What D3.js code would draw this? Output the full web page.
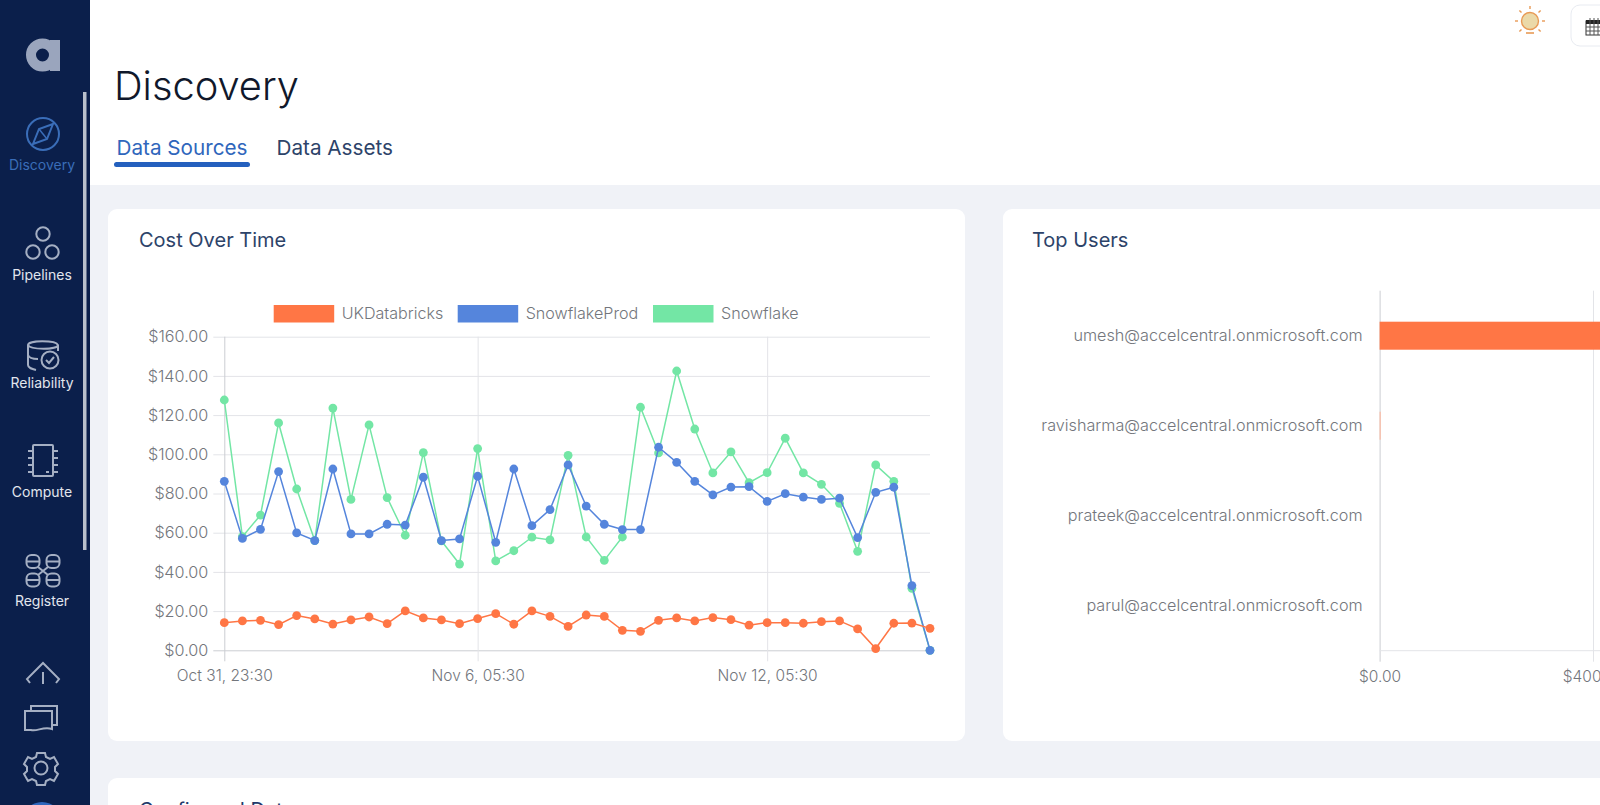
<!DOCTYPE html>
<html><head><meta charset="utf-8">
<script src="https://cdn.jsdelivr.net/npm/d3@7"></script>
<style>
html,body{margin:0;padding:0;width:1600px;height:805px;overflow:hidden;background:#fff}
svg{display:block}
text{font-family:Inter,"Noto Sans",sans-serif}
</style></head><body><svg id="c" width="1600" height="805"></svg>
<script>
const timeLabels=["Oct 31, 23:30","Nov 6, 05:30","Nov 12, 05:30"];
const timeTickIndex=[0,14,30];
const pointIndex=d3.range(40);
const seriesNames=["UKDatabricks","SnowflakeProd","Snowflake"];
const seriesColors=["#FF7645","#5585DC","#73E6A5"];
const ukDatabricks=[14.1,15,15.3,13.1,17.7,16,13.4,15.5,17,13.6,20.1,16.5,15.5,13.6,16.2,18.7,13.3,20.1,17.3,12.2,18,17.3,10.2,9.7,15.3,16.5,15,16.7,15.6,12.8,14.1,14.1,13.8,14.6,15,10.9,0.9,13.8,13.9,11.2];
const snowflakeProd=[86.2,57.1,61.7,91.2,59.9,56,92.5,59.4,59.4,64.3,63.9,88.3,56,56.8,88.8,55.1,92.5,63.6,71.8,94.6,73.6,64.3,61.6,61.6,103.6,95.9,86.2,79.3,83.3,83.5,76,79.9,78.2,77,77.6,57.5,80.6,83.2,33,0];
const snowflake=[127.7,58,69,116,82.3,56,123.6,77,115,77.9,58.7,100.9,55.8,44,102.9,45.6,50.8,57.7,56.3,99.5,57.8,45.9,57.8,124,100.7,142.5,112.9,90.5,101.2,85.5,90.6,108.2,90.5,84.7,75,50.5,94.6,86.2,31.6,0];
const costTicks=[0,20,40,60,80,100,120,140,160];
const users=["umesh@accelcentral.onmicrosoft.com","ravisharma@accelcentral.onmicrosoft.com","prateek@accelcentral.onmicrosoft.com","parul@accelcentral.onmicrosoft.com"];
const userCost=[1200,2,0,0];
const userTicks=[0,400];

const svg=d3.select("#c");
const bg=svg.append("g");
bg.append("rect").attr("x",90).attr("y",185).attr("width",1510).attr("height",620).attr("fill","#F0F2F7");
[[108,209,857,532],[1003,209,700,532],[108,778,1600,80]].forEach(r=>bg.append("rect").attr("x",r[0]).attr("y",r[1]).attr("width",r[2]).attr("height",r[3]).attr("rx",9).attr("fill","#fff"));
const t=(x,y,s,size,fill,w,a)=>svg.append("text").attr("x",x).attr("y",y).text(s).attr("font-size",size).attr("fill",fill).attr("font-weight",w||400).attr("text-anchor",a||"start");
t(114,100,"Discovery",39.8,"#10182b",300);
t(116.5,155,"Data Sources",20.7,"#2F66BC",400);
t(276.5,155,"Data Assets",20.7,"#2D4369",400);
svg.append("rect").attr("x",114).attr("y",162).attr("width",136).attr("height",5).attr("rx",2.5).attr("fill","#2460BE");
t(139,247,"Cost Over Time",20,"#2D4369",400);
t(1032,247,"Top Users",20,"#2D4369",400);
t(139,817,"Configured Data",20,"#22396a",400);

// sidebar
const side=svg.append("g");
side.append("rect").attr("width",90).attr("height",805).attr("fill","#0B1F4B");
side.append("rect").attr("x",83).attr("y",92).attr("width",3.5).attr("height",458).attr("fill","#B9C0CC");
const ic="#A5AFC3",blue="#3A6DB8";
const labels=[["Discovery",170,blue],["Pipelines",280,"#E2E6EE"],["Reliability",388,"#E2E6EE"],["Compute",497,"#E2E6EE"],["Register",606,"#E2E6EE"]];
labels.forEach(l=>t(42,l[1],l[0],14,l[2],400,"middle"));
const g=(sel,attrs)=>{const e=side.append(sel);Object.entries(attrs).forEach(([k,v])=>e.attr(k,v));return e;};
const S={fill:"none",stroke:ic,"stroke-width":2};
// logo
g("circle",{cx:42.5,cy:55,r:11.5,fill:"none",stroke:"#9AA5BD","stroke-width":10});
g("rect",{x:50,y:40,width:10,height:31,fill:"#9AA5BD"});
// discovery
g("circle",{cx:43,cy:134,r:16,fill:"none",stroke:blue,"stroke-width":2});
g("path",{d:"M53 124L47 139L33 144L39 129Z",fill:"none",stroke:blue,"stroke-width":2});
g("path",{d:"M39 129L47 139",stroke:blue,"stroke-width":1.5});
// pipelines
[[43,234],[33,252],[52,252]].forEach(c=>g("circle",{cx:c[0],cy:c[1],r:6.7,...S}));
// reliability
g("path",{d:"M28 345c0-5 28-5 30 0c0 5-28 5-30 0v20c0 3 4 4 8 5M28 355c1 3 6 4 10 4M58 345v6",...S});
g("circle",{cx:50,cy:360,r:8.5,...S});
g("path",{d:"M46 360l3 3l5-6",...S});
// compute
g("rect",{x:33,y:445,width:20,height:31,rx:1,...S});
[451,458,465,472].forEach(y=>g("path",{d:`M28 ${y}h5M53 ${y}h5`,...S}));
g("path",{d:"M46 472h3",...S});
// register
[[33,561.5],[53,561.5],[33,580],[53,580]].forEach(c=>{g("rect",{x:c[0]-6.5,y:c[1]-6.5,width:13,height:13,rx:5,...S});g("path",{d:`M${c[0]-6} ${c[1]}h12`,...S});});
g("path",{d:"M38 567l10 8M48 567l-10 8",...S});
// upload
g("path",{d:"M30 683l-3-4l16-16l16 16l-3 4M43 672v12",...S});
// cards
g("path",{d:"M25 711h27v18c-9 -3-15 3-21 1h-6zM31 711v-5h26v19h-5",...S});
// gear
g("circle",{cx:41,cy:768,r:6.5,...S});
g("path",{d:"M37 753h8l1 4l4 2l4-2l4 7l-3 3v4l3 3l-4 7l-4-2l-4 2l-1 4h-8l-1-4l-4-2l-4 2l-4-7l3-3v-4l-3-3l4-7l4 2l4-2z",...S});
g("circle",{cx:42,cy:822,r:20,fill:"#2F66BC"});

// bulb + calendar
g("circle",{cx:1530,cy:21,r:8.5,fill:"#EBD9A8",stroke:"#E89A55","stroke-width":1.4});
g("path",{d:"M1526 33h8",stroke:"#E89A55","stroke-width":1.6});
svg.selectAll(".ray").data([0,45,90,135,225,270,315]).join("line").attr("x1",1530).attr("x2",1530).attr("y1",21-12).attr("y2",21-15).attr("stroke","#E89A55").attr("stroke-width",1.4).attr("transform",d=>`rotate(${d} 1530 21)`);
svg.append("rect").attr("x",1571).attr("y",5).attr("width",50).attr("height",41).attr("rx",9).attr("fill","#fff").attr("stroke","#E8EBF1");
svg.append("rect").attr("x",1586).attr("y",21).attr("width",16).attr("height",14).attr("fill","#fff").attr("stroke","#333");
svg.append("rect").attr("x",1586).attr("y",20).attr("width",16).attr("height",4).attr("fill","#222");
[1590,1594,1598].forEach(v=>svg.append("line").attr("x1",v).attr("x2",v).attr("y1",18).attr("y2",35).attr("stroke","#555"));
[27,31].forEach(v=>svg.append("line").attr("x1",1586).attr("x2",1600).attr("y1",v).attr("y2",v).attr("stroke","#555"));

// cost chart
const x=d3.scalePoint().domain(pointIndex).range([224.3,930]);
const y=d3.scaleLinear().domain([0,160]).range([650.3,336.7]);
const cg=svg.append("g");
const grid="#E3E4E8",tickColor="#73767C",axisC="#CBCDD2";
const yA=d3.axisLeft(y).tickValues(costTicks).tickFormat(d=>"$"+d.toFixed(2)).tickSize(11).tickPadding(5);
const ya=cg.append("g").attr("transform","translate(224.3,0)").call(yA);
ya.select(".domain").remove();
ya.selectAll("line").attr("x2",930-224.3).attr("x1",-11).attr("stroke",d=>d===0?axisC:grid);
ya.selectAll("text").attr("fill",tickColor).attr("font-size",16.2).attr("font-weight",300);
const xA=d3.axisBottom(x).tickValues(timeTickIndex).tickFormat(i=>timeLabels[timeTickIndex.indexOf(i)]).tickSize(11).tickPadding(9);
const xa=cg.append("g").attr("transform","translate(0,650.3)").call(xA);
xa.select(".domain").remove();
xa.selectAll("line").attr("y1",-(650.3-336.7)).attr("stroke",d=>d===0?axisC:grid);
xa.selectAll("text").attr("fill",tickColor).attr("font-size",15.5).attr("font-weight",300);
[ukDatabricks,snowflakeProd,snowflake].map((v,i)=>({v,i})).reverse().forEach(({v,i})=>{
  const s=cg.append("g");
  s.append("path").attr("d",d3.line().x((d,j)=>x(j)).y(d=>y(d))(v)).attr("fill","none").attr("stroke",seriesColors[i]).attr("stroke-width",1.5);
  s.selectAll("circle").data(v).join("circle").attr("cx",(d,j)=>x(j)).attr("cy",d=>y(d)).attr("r",4.4).attr("fill",seriesColors[i]);
});
// legend
const legendX=[273.7,457.7,653];
seriesNames.forEach((n,i)=>{
  svg.append("rect").attr("x",legendX[i]).attr("y",305).attr("width",60.5).attr("height",17.5).attr("fill",seriesColors[i]);
  t(legendX[i]+68,318.5,n,16.1,"#73767C",300);
});

// users chart
const ux=d3.scaleLinear().domain([0,400]).range([1379.6,1593]);
const uy=d3.scaleBand().domain(users).range([290.7,650.7]);
const ug=svg.append("g");
const uxa=ug.append("g").attr("transform","translate(0,650.7)").call(d3.axisBottom(ux).tickValues(userTicks).tickFormat(d=>"$"+d.toFixed(2)).tickSize(11).tickPadding(9));
uxa.select(".domain").remove();
uxa.selectAll("line").attr("y1",-360).attr("stroke",d=>d===0?axisC:grid);
uxa.selectAll("text").attr("fill",tickColor).attr("font-size",15.5).attr("font-weight",300);
ug.append("line").attr("x1",1379.6).attr("x2",1600).attr("y1",650.7).attr("y2",650.7).attr("stroke",grid);
ug.selectAll(".bar").data(users).join("rect").attr("x",ux(0)).attr("y",d=>uy(d)+uy.bandwidth()/2-14).attr("height",28).attr("width",(d,i)=>ux(userCost[i])-ux(0)).attr("fill",(d,i)=>i===0?seriesColors[0]:"#FFB79C");
const uya=ug.append("g").attr("transform","translate(1379.6,0)").call(d3.axisLeft(uy).tickSize(0).tickPadding(17));
uya.select(".domain").remove();
uya.selectAll("text").attr("fill",tickColor).attr("font-size",16.2).attr("font-weight",300);
</script></body></html>
